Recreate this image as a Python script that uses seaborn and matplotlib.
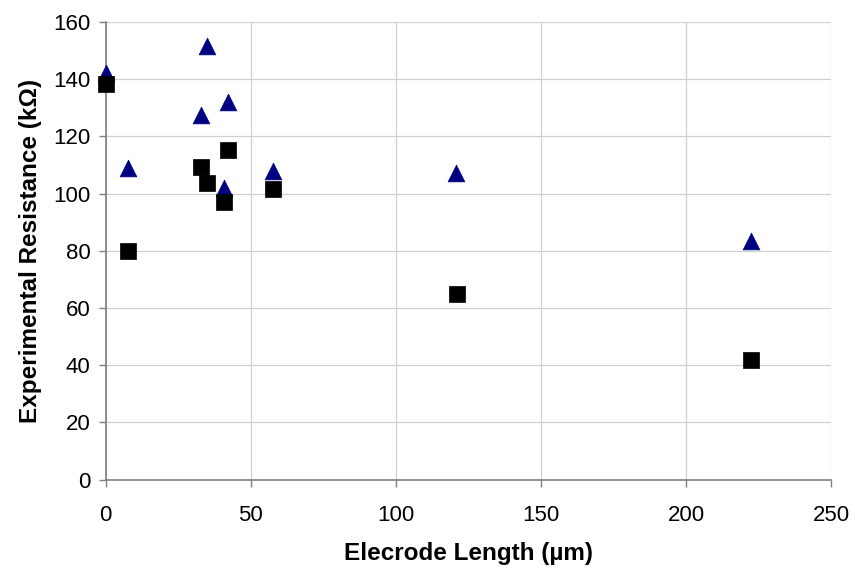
import numpy as np
import pandas as pd
import matplotlib
matplotlib.use("Agg")
import matplotlib.pyplot as plt
import seaborn as sns

length_tri = [0, 7.8, 32.9, 34.9, 40.9, 42.2, 57.8, 120.9, 222.4]
res_tri = [142.2, 109.1, 127.5, 151.6, 101.9, 132.2, 108.0, 107.2, 83.4]

length_sq = [0, 7.8, 32.9, 34.9, 40.9, 42.2, 57.8, 121.0, 222.4]
res_sq = [138.2, 80.0, 109.2, 103.6, 97.2, 115.3, 101.5, 64.8, 41.9]

sns.set_theme(style="white")
plt.rcParams['font.family'] = ['Liberation Sans', 'DejaVu Sans']
plt.rcParams['text.color'] = 'black'
plt.rcParams['axes.labelcolor'] = 'black'
plt.rcParams['xtick.color'] = 'black'
plt.rcParams['ytick.color'] = 'black'

fig = plt.figure(figsize=(8.55, 5.72), dpi=100)
ax = fig.add_axes([0.1236, 0.1614, 0.8484, 0.8001])

df_tri = pd.DataFrame({'length': length_tri, 'res': res_tri})
df_sq = pd.DataFrame({'length': length_sq, 'res': res_sq})

sns.scatterplot(data=df_tri, x='length', y='res', marker='^', s=145,
                color='#000080', edgecolor='#000080', linewidth=0.5, ax=ax, zorder=3,
                clip_on=False)
sns.scatterplot(data=df_sq, x='length', y='res', marker='s', s=140,
                color='black', edgecolor='black', linewidth=0.5, ax=ax, zorder=3,
                clip_on=False)

ax.set_xlim(0, 250)
ax.set_ylim(0, 160)
ax.set_xticks(np.arange(0, 251, 50))
ax.set_yticks(np.arange(0, 161, 20))
ax.grid(True, color='#d0d0d0', linewidth=0.9)
ax.set_axisbelow(True)

for side in ['top', 'right']:
    ax.spines[side].set_visible(False)
for side in ['left', 'bottom']:
    ax.spines[side].set_color('#808080')
    ax.spines[side].set_linewidth(1.2)

ax.tick_params(axis='both', direction='out', length=5, width=1, color='#808080',
               labelsize=16, pad=6, left=True, bottom=True, labelcolor='black')
ax.tick_params(axis='x', pad=13)

ax.set_xlabel('Elecrode Length (\u00b5m)', fontsize=17.5, fontweight='bold', labelpad=12)
ax.set_ylabel('Experimental Resistance (k\u03a9)', fontsize=17.5, fontweight='bold', labelpad=8)

fig.savefig('out.png', dpi=100)
